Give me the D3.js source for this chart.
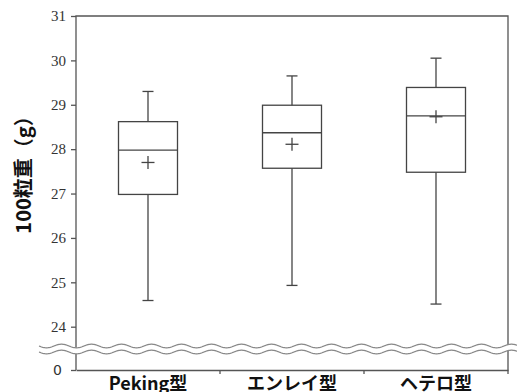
<!DOCTYPE html>
<html>
<head>
<meta charset="utf-8">
<script src="https://cdn.jsdelivr.net/npm/d3@7"></script>
<style>
  body { margin: 0; background: #fff; }
  svg { display: block; }
</style>
</head>
<body>
<div id="chart"></div>
<script>
// data
const categories = ["Peking型", "エンレイ型", "ヘテロ型"];
const whiskerLow = [24.59, 24.93, 24.51];
const q1 = [26.98, 27.57, 27.48];
const median = [27.98, 28.37, 28.75];
const q3 = [28.62, 28.99, 29.39];
const whiskerHigh = [29.30, 29.65, 30.05];
const means = [27.70, 28.11, 28.73];
const yTicks = [24, 25, 26, 27, 28, 29, 30, 31];

const width = 517, height = 392;
const margin = { top: 16, right: 9, left: 76 };
const plotRight = width - margin.right;
const zeroY = 370;

const svg = d3.select("#chart").append("svg")
  .attr("width", width).attr("height", height);

const x = d3.scaleBand().domain(categories).range([margin.left, plotRight]);
const y = d3.scaleLinear().domain([24, 31]).range([326.7, margin.top]);

const lineCol = "#555";
const boxCol = "#444";

// frame
svg.append("path")
  .attr("d", `M${margin.left},${zeroY}V${margin.top}H${plotRight}V${zeroY}`)
  .attr("fill", "none").attr("stroke", lineCol).attr("stroke-width", 1.3);

// y axis (upper part)
const yAxis = svg.append("g")
  .attr("transform", `translate(${margin.left},0)`)
  .call(d3.axisLeft(y).tickValues(yTicks).tickSize(5).tickPadding(5).tickFormat(d3.format("d")));
yAxis.select(".domain").remove();
yAxis.selectAll("line").attr("stroke", lineCol).attr("stroke-width", 1.3);
yAxis.selectAll("text")
  .attr("font-family", "'Liberation Serif', 'Times New Roman', serif")
  .attr("font-size", 15).attr("fill", "#333");

// zero tick
const y0 = d3.scaleLinear().domain([0, 1]).range([zeroY, zeroY - 10]);
const zeroAxis = svg.append("g")
  .attr("transform", `translate(${margin.left},0)`)
  .call(d3.axisLeft(y0).tickValues([0]).tickSize(5).tickPadding(9).tickFormat(d3.format("d")));
zeroAxis.select(".domain").remove();
zeroAxis.selectAll("line").attr("stroke", lineCol).attr("stroke-width", 1.3);
zeroAxis.selectAll("text")
  .attr("font-family", "'DejaVu Sans', sans-serif")
  .attr("font-size", 14).attr("fill", "#333");

// x axis
const xAxis = svg.append("g")
  .attr("transform", `translate(0,${zeroY})`)
  .call(d3.axisBottom(x).tickSize(0).tickPadding(7));
xAxis.select(".domain").attr("stroke", lineCol).attr("stroke-width", 1.3);
xAxis.selectAll("text")
  .attr("font-family", "'Noto Sans CJK JP', sans-serif")
  .attr("font-weight", "bold").attr("font-size", 18).attr("fill", "#111");
// boundary ticks
const bounds = [x(categories[1]), x(categories[2]), plotRight];
svg.selectAll(".bt").data(bounds).enter().append("line")
  .attr("x1", d => d).attr("x2", d => d)
  .attr("y1", zeroY).attr("y2", zeroY + 4)
  .attr("stroke", lineCol).attr("stroke-width", 1.3);

// axis break
const waveX = d3.range(39, width + 2, 1);
const wy = (px, yc) => yc + 1.8 * Math.sin((px - 39) / 30 * 2 * Math.PI);
const waveArea = d3.area().x(px => px).y0(px => wy(px, 346)).y1(px => wy(px, 352));
svg.append("path").attr("d", waveArea(waveX)).attr("fill", "#fff");
[346, 352].forEach(yc => {
  svg.append("path").attr("d", d3.line()(waveX.map(px => [px, wy(px, yc)])))
    .attr("fill", "none").attr("stroke", "#888").attr("stroke-width", 1.2);
});

// boxes
const boxW = 59, capW = 11, plus = 6.5;
const g = svg.selectAll(".box").data(categories).enter().append("g")
  .attr("stroke", boxCol).attr("stroke-width", 1.3).attr("fill", "none");
g.each(function (c, i) {
  const s = d3.select(this);
  const cx = x(c) + x.bandwidth() / 2;
  s.append("line").attr("x1", cx).attr("x2", cx).attr("y1", y(whiskerHigh[i])).attr("y2", y(q3[i]));
  s.append("line").attr("x1", cx).attr("x2", cx).attr("y1", y(q1[i])).attr("y2", y(whiskerLow[i]));
  s.append("line").attr("x1", cx - capW / 2).attr("x2", cx + capW / 2).attr("y1", y(whiskerHigh[i])).attr("y2", y(whiskerHigh[i]));
  s.append("line").attr("x1", cx - capW / 2).attr("x2", cx + capW / 2).attr("y1", y(whiskerLow[i])).attr("y2", y(whiskerLow[i]));
  s.append("rect").attr("x", cx - boxW / 2).attr("width", boxW)
    .attr("y", y(q3[i])).attr("height", y(q1[i]) - y(q3[i]));
  s.append("line").attr("x1", cx - boxW / 2).attr("x2", cx + boxW / 2).attr("y1", y(median[i])).attr("y2", y(median[i]));
  s.append("line").attr("x1", cx - plus).attr("x2", cx + plus).attr("y1", y(means[i])).attr("y2", y(means[i]));
  s.append("line").attr("x1", cx).attr("x2", cx).attr("y1", y(means[i]) - plus).attr("y2", y(means[i]) + plus);
});

// y label
svg.append("text")
  .attr("transform", "translate(31,170) rotate(-90)")
  .attr("text-anchor", "middle")
  .attr("font-family", "'Noto Sans CJK JP', sans-serif")
  .attr("font-weight", "bold").attr("font-size", 20).attr("fill", "#111")
  .text("100粒重（g）");
</script>
</body>
</html>
